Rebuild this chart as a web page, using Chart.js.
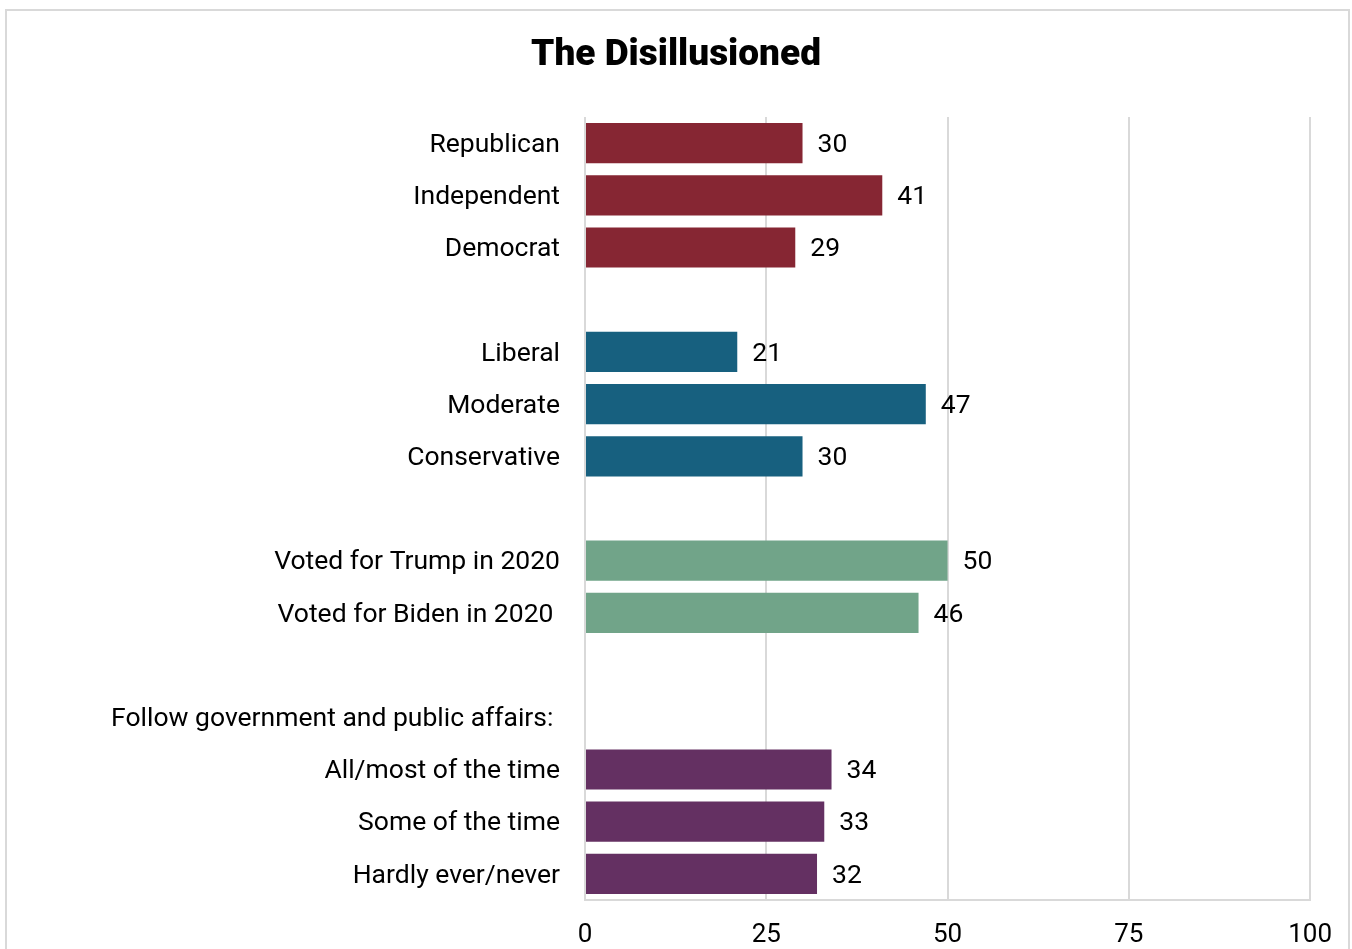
<!DOCTYPE html>
<html>
<head>
<meta charset="utf-8">
<script src="https://cdn.jsdelivr.net/npm/chart.js@4/dist/chart.umd.min.js"></script>
<style>
  html, body { margin: 0; padding: 0; background: #fff; overflow: hidden; }
  #frame { position: absolute; left: 5px; top: 9px; width: 1341px; height: 960px; border: 2px solid #d9d9d9; }
  #wrap { position: absolute; left: 0; top: 0; width: 1352px; height: 949px; }
</style>
</head>
<body>
<div id="frame"></div>
<div id="wrap"><canvas id="c" width="1352" height="949"></canvas></div>
<script>
const titleText = 'The Disillusioned';
const categories = [
  'Republican', 'Independent', 'Democrat', '',
  'Liberal', 'Moderate', 'Conservative', '',
  'Voted for Trump in 2020', 'Voted for Biden in 2020 ', '',
  'Follow government and public affairs: ',
  'All/most of the time', 'Some of the time', 'Hardly ever/never'
];
const values = [30, 41, 29, null, 21, 47, 30, null, 50, 46, null, null, 34, 33, 32];
const groupColors = ['#862633', '#17607f', '#71a489', '#643062'];
const groupOfRow = [0, 0, 0, null, 1, 1, 1, null, 2, 2, null, null, 3, 3, 3];
const xTicks = [0, 25, 50, 75, 100];

const barColors = groupOfRow.map(g => g === null ? 'rgba(0,0,0,0)' : groupColors[g]);

const valueLabels = {
  id: 'valueLabels',
  afterDatasetsDraw(chart) {
    const ctx = chart.ctx;
    const meta = chart.getDatasetMeta(0);
    ctx.save();
    ctx.font = '26.5px Roboto';
    ctx.fillStyle = '#000';
    ctx.textAlign = 'left';
    ctx.textBaseline = 'middle';
    meta.data.forEach((el, i) => {
      const v = values[i];
      if (v === null || v === undefined) return;
      ctx.fillText(String(v), el.x + 15, el.y + 2);
    });
    ctx.restore();
  }
};

new Chart(document.getElementById('c'), {
  type: 'bar',
  data: {
    labels: categories,
    datasets: [{
      data: values,
      backgroundColor: barColors,
      borderWidth: 0,
      barPercentage: 0.77,
      categoryPercentage: 1
    }]
  },
  options: {
    indexAxis: 'y',
    responsive: false,
    animation: false,
    layout: { padding: { left: 41, right: 41, top: 0, bottom: 0 } },
    plugins: {
      legend: { display: false },
      tooltip: { enabled: false },
      title: {
        display: true,
        text: titleText,
        color: '#000',
        font: { family: 'Roboto', size: 37, weight: '900' },
        padding: { top: 34, bottom: 38.6 }
      }
    },
    scales: {
      x: {
        min: 0, max: 100,
        afterBuildTicks(scale) { scale.ticks = xTicks.map(v => ({ value: v })); },
        afterFit(scale) { scale.height = 49; },
        grid: { color: '#d9d9d9', lineWidth: 2, drawTicks: false },
        border: { display: true, color: '#d9d9d9', width: 2 },
        ticks: { color: '#000', font: { family: 'Roboto', size: 26 }, padding: 20 }
      },
      y: {
        afterFit(scale) { scale.width = 544; },
        grid: { display: false, drawTicks: false },
        border: { display: false },
        ticks: { color: '#000', font: { family: 'Roboto', size: 26.5 }, padding: 25, autoSkip: false, labelOffset: 2 }
      }
    }
  },
  plugins: [valueLabels]
});
</script>
</body>
</html>
